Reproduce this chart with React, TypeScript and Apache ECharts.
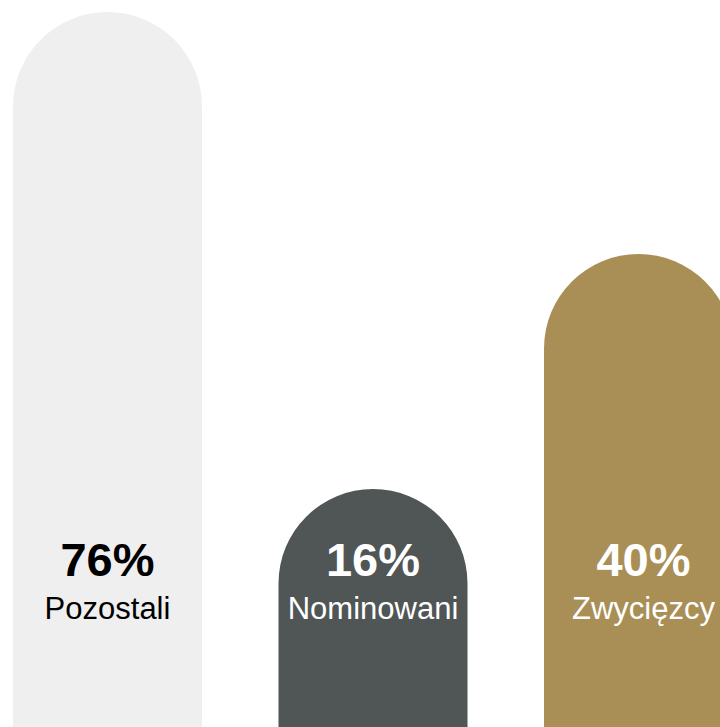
import React, { useEffect, useRef } from "react";
import * as echarts from "echarts";

const categories = ["Pozostali", "Nominowani", "Zwycięzcy"];
const values = [76, 16, 40];
const barColors = ["#EFEFEF", "#505555", "#A98F56"];
const labelColors = ["#000000", "#FFFFFF", "#FFFFFF"];
const labelShift = [0, 0, 5];

export default function App() {
  const ref = useRef<HTMLDivElement>(null);
  useEffect(() => {
    document.body.style.margin = "0";
    const chart = echarts.init(ref.current!, null, { renderer: "svg" });
    const font = "Arial, 'Liberation Sans', Helvetica, sans-serif";
    chart.setOption({
      animation: false,
      grid: {
        left: -25.25,
        width: 796.5,
        top: 0,
        height: 727,
        containLabel: false,
        outerBoundsMode: "none",
      },
      xAxis: {
        type: "category",
        data: categories,
        show: false,
      },
      yAxis: {
        type: "value",
        min: 1.646,
        max: 8.837,
        show: false,
      },
      series: [
        {
          type: "bar",
          barWidth: 189,
          data: values.map((v, i) => ({
            value: Math.sqrt(v),
            itemStyle: { color: barColors[i], borderRadius: [94.5, 94.5, 0, 0] },
            label: {
              show: true,
              position: "insideBottom",
              distance: 96,
              offset: [labelShift[i], 0],
              formatter: `{a|${v}%}\n{b|${categories[i]}}`,
              rich: {
                a: {
                  fontSize: 47,
                  fontWeight: "bold",
                  fontFamily: font,
                  color: labelColors[i],
                  lineHeight: 52,
                  align: "center",
                },
                b: {
                  fontSize: 31,
                  fontFamily: font,
                  color: labelColors[i],
                  lineHeight: 46,
                  align: "center",
                },
              },
            },
          })),
        },
      ],
    });
    return () => chart.dispose();
  }, []);
  return <div ref={ref} style={{ width: 720, height: 727 }} />;
}
